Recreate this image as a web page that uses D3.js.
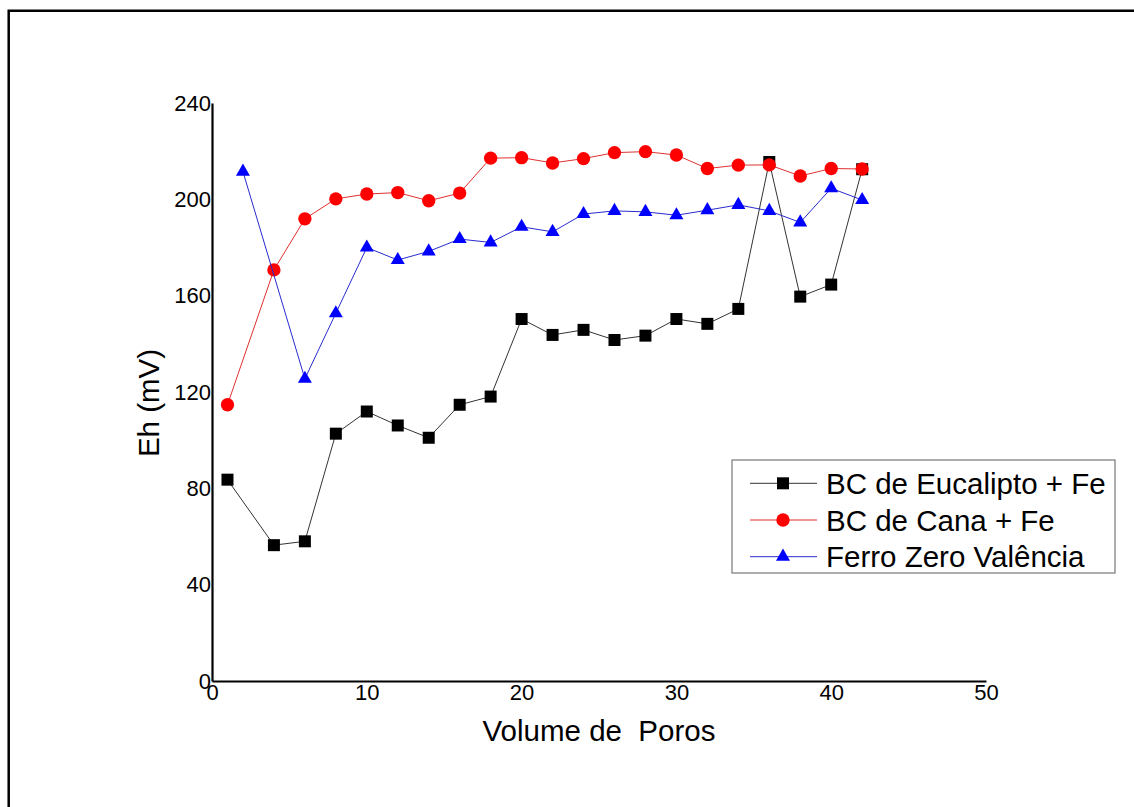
<!DOCTYPE html>
<html>
<head>
<meta charset="utf-8">
<script src="https://cdn.jsdelivr.net/npm/d3@7"></script>
<style>
    body { margin: 0; background: #fff; }
    text { font-family: "Liberation Sans", Arial, sans-serif; fill: #000; }
</style>
</head>
<body>
<div id="chart"></div>
<script>
// Volume de poros (x) and Eh (mV) per series
const xEuc = [1, 4, 6, 8, 10, 12, 14, 16, 18, 20, 22, 24, 26, 28, 30, 32, 34, 36, 38, 40, 42];
const yEuc = [83.6, 56.4, 58.0, 102.7, 111.9, 106.1, 101.0, 114.7, 118.1, 150.3, 143.7, 145.8, 141.6, 143.4, 150.3, 148.3, 154.5, 215.5, 159.6, 164.6, 212.5];

const xCana = [1, 4, 6, 8, 10, 12, 14, 16, 18, 20, 22, 24, 26, 28, 30, 32, 34, 36, 38, 40, 42];
const yCana = [114.7, 170.7, 191.9, 200.2, 202.2, 202.8, 199.4, 202.6, 217.1, 217.3, 215.1, 216.9, 219.4, 219.8, 218.4, 212.8, 214.2, 214.3, 209.7, 212.8, 212.6];

const xFerro = [2, 6, 8, 10, 12, 14, 16, 18, 20, 22, 24, 26, 28, 30, 32, 34, 36, 38, 40, 42];
const yFerro = [211.5, 125.5, 152.7, 180.0, 174.8, 178.4, 183.5, 182.1, 188.6, 186.5, 193.9, 195.2, 194.8, 193.4, 195.5, 197.7, 195.2, 190.4, 204.6, 199.7];

const seriesNames = ["BC de Eucalipto + Fe", "BC de Cana + Fe", "Ferro Zero Valência"];
const xTicks = [0, 10, 20, 30, 40, 50];
const yTicks = [0, 40, 80, 120, 160, 200, 240];

const width = 1134, height = 807;
const fontStack = '"Liberation Sans", Arial, sans-serif';

const svg = d3.select("#chart")
    .append("svg")
    .attr("width", width)
    .attr("height", height);

// frame (top and left only)
svg.append("path")
    .attr("d", "M8.7," + height + "V10.7H" + width)
    .attr("fill", "none")
    .attr("stroke", "#000")
    .attr("stroke-width", 2.5);

const x = d3.scaleLinear().domain([0, 50]).range([212, 986]);
const y = d3.scaleLinear().domain([0, 240]).range([681, 103]);

// X as
const xAxis = svg.append("g")
    .attr("transform", "translate(0,681)")
    .call(d3.axisBottom(x).tickValues(xTicks).tickSize(0).tickPadding(3));
// Y as
const yAxis = svg.append("g")
    .attr("transform", "translate(212,0)")
    .call(d3.axisLeft(y).tickValues(yTicks).tickSize(0).tickPadding(1));

[xAxis, yAxis].forEach(g => {
    g.select(".domain").attr("stroke", "#000").attr("stroke-width", 2.2);
    g.selectAll("text")
        .style("font-family", fontStack)
        .style("font-size", "22px")
        .attr("fill", "#000");
});

svg.append("text")
    .attr("x", 599)
    .attr("y", 741)
    .attr("text-anchor", "middle")
    .style("font-size", "29.5px")
    .style("white-space", "pre")
    .text("Volume de  Poros");

svg.append("text")
    .attr("transform", "translate(159,403) rotate(-90)")
    .attr("text-anchor", "middle")
    .style("font-size", "29.5px")
    .text("Eh (mV)");

const series = [
    {name: seriesNames[0], xs: xEuc, ys: yEuc, line: "#333", fill: "#000", shape: d3.symbolSquare, size: 144},
    {name: seriesNames[1], xs: xCana, ys: yCana, line: "#e03030", fill: "#ff0000", shape: d3.symbolCircle, size: 140},
    {name: seriesNames[2], xs: xFerro, ys: yFerro, line: "#2a2ad0", fill: "#0000ff", shape: d3.symbolTriangle, size: 85}
];

const line = d3.line()
    .x(d => x(d[0]))
    .y(d => y(d[1]));

series.forEach(s => {
    const pts = s.xs.map((v, i) => [v, s.ys[i]]);
    const g = svg.append("g");
    g.append("path")
        .datum(pts)
        .attr("fill", "none")
        .attr("stroke", s.line)
        .attr("stroke-width", 1)
        .attr("d", line);
    g.selectAll("path.pt")
        .data(pts)
        .enter()
        .append("path")
        .attr("class", "pt")
        .attr("transform", d => "translate(" + x(d[0]) + "," + y(d[1]) + ")")
        .attr("d", d3.symbol().type(s.shape).size(s.size))
        .attr("fill", s.fill);
});

// legenda
const legend = svg.append("g");
legend.append("rect")
    .attr("x", 732)
    .attr("y", 460)
    .attr("width", 383)
    .attr("height", 113)
    .attr("fill", "#fff")
    .attr("stroke", "#777")
    .attr("stroke-width", 1.2);

series.forEach((s, i) => {
    const ly = 483.3 + i * 36.7;
    legend.append("line")
        .attr("x1", 750).attr("x2", 817)
        .attr("y1", ly).attr("y2", ly)
        .attr("stroke", s.line)
        .attr("stroke-width", 1);
    legend.append("path")
        .attr("transform", "translate(783," + ly + ")")
        .attr("d", d3.symbol().type(s.shape).size(s.size))
        .attr("fill", s.fill);
    legend.append("text")
        .attr("x", 826)
        .attr("y", ly + 10.5)
        .style("font-size", "29.5px")
        .text(s.name);
});
</script>
</body>
</html>
